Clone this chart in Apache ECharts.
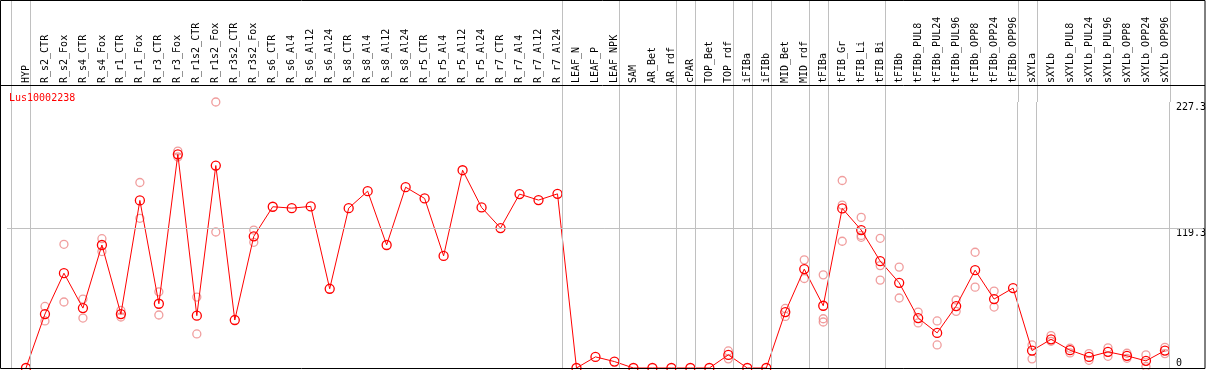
<!DOCTYPE html>
<html>
<head>
<meta charset="utf-8">
<script src="https://cdn.jsdelivr.net/npm/echarts@6/dist/echarts.min.js"></script>
<style>
  html, body { margin: 0; padding: 0; background: #fff; }
  #chart { width: 1209px; height: 370px; }
</style>
</head>
<body>
<div id="chart"></div>
<script>
var geneName = 'Lus10002238';

var categories = [
    'HYP',
    'R_s2_CTR', 'R_s2_Fox', 'R_s4_CTR', 'R_s4_Fox', 'R_r1_CTR', 'R_r1_Fox',
    'R_r3_CTR', 'R_r3_Fox', 'R_r1s2_CTR', 'R_r1s2_Fox', 'R_r3s2_CTR', 'R_r3s2_Fox',
    'R_s6_CTR', 'R_s6_Al4', 'R_s6_Al12', 'R_s6_Al24',
    'R_s8_CTR', 'R_s8_Al4', 'R_s8_Al12', 'R_s8_Al24',
    'R_r5_CTR', 'R_r5_Al4', 'R_r5_Al12', 'R_r5_Al24',
    'R_r7_CTR', 'R_r7_Al4', 'R_r7_Al12', 'R_r7_Al24',
    'LEAF_N', 'LEAF_P', 'LEAF_NPK',
    'SAM', 'AR_Bet', 'AR_rdf',
    'cPAR',
    'TOP_Bet', 'TOP_rdf',
    'iFIBa',
    'iFIBb',
    'MID_Bet', 'MID_rdf',
    'tFIBa',
    'tFIB_Gr', 'tFIB_Li', 'tFIB_Bi',
    'tFIBb', 'tFIBb_PUL8', 'tFIBb_PUL24', 'tFIBb_PUL96', 'tFIBb_OPP8', 'tFIBb_OPP24', 'tFIBb_OPP96',
    'sXYLa',
    'sXYLb', 'sXYLb_PUL8', 'sXYLb_PUL24', 'sXYLb_PUL96', 'sXYLb_OPP8', 'sXYLb_OPP24', 'sXYLb_OPP96'
];

// mean expression per sample
var means = [
    0,
    46.1, 81.0, 51.2, 105.1, 46.1, 143.2, 54.9, 182.6, 44.7, 173.0, 41.0, 112.5,
    137.8, 136.6, 138.1, 67.7,
    136.6, 151.1, 105.1, 154.5,
    144.9, 95.8, 169.0, 137.2,
    119.6, 148.6, 143.5, 148.8,
    0, 9.5, 5.5,
    0, 0, 0,
    0,
    0, 11.2,
    0,
    0,
    47.8, 84.5,
    53.2,
    136.4, 117.9, 91.3,
    72.8, 42.7, 30.0, 52.9, 83.6, 58.9, 68.3,
    14.9,
    24.5, 15.2, 9.5, 13.8, 10.4, 6.1, 14.9
];

// replicate values per sample
var replicates = [
    [],
    [52.6, 40.2], [105.7, 56.4], [58.9, 42.7], [110.5, 99.5], [49.2, 43.6], [158.5, 127.9],
    [65.1, 45.3], [185.4, 180.3], [60.6, 29.1], [227.3, 116.2], [], [117.9, 107.4],
    [], [], [], [],
    [], [], [], [],
    [], [], [], [],
    [], [], [], [],
    [], [], [],
    [], [], [],
    [],
    [], [14.6, 7.8],
    [],
    [],
    [50.9, 44.1], [92.4, 76.5],
    [79.6, 42.1, 39.3],
    [160.2, 139.2, 108.3], [128.7, 111.7, 113.3], [110.8, 87.5, 75.1],
    [86.2, 59.8], [47.8, 38.5], [40.2, 19.7], [58.1, 48.4], [98.9, 69.1], [65.7, 52.1], [],
    [19.7, 7.8],
    [27.7, 22.8], [16.9, 12.9], [12.3, 6.6], [17.2, 10.0], [12.6, 8.3], [11.2, 1.3], [17.7, 12.3]
];

// last sample index of each tissue group (separators drawn just after)
var groupEnds = [-1, 0, 28, 31, 34, 35, 37, 38, 39, 41, 42, 45, 52, 53, 60];

var yMax = 227.3;
var yMid = 119.3;

var meanData = means.map(function (v, i) { return [i, v]; });
var repData = [];
replicates.forEach(function (list, i) {
    list.forEach(function (v) { repData.push([i, v]); });
});
var sepLines = groupEnds.map(function (g) { return { xAxis: g + 0.24 }; });

var font = '"DejaVu Sans Mono", monospace';

var myChart = echarts.init(document.getElementById('chart'));
myChart.setOption({
    animation: false,
    title: {
        text: geneName,
        left: 4,
        top: 88,
        textStyle: { color: '#ff0000', fontSize: 10, fontWeight: 'normal', fontFamily: font }
    },
    grid: [
        { left: 7, right: 5, top: 102, bottom: 2 },
        { left: 7, right: 5, top: 0, height: 102 }
    ],
    xAxis: [{
        type: 'value',
        gridIndex: 0,
        position: 'top',
        offset: 17,
        min: -1,
        max: 62,
        interval: 1,
        axisLine: { show: false },
        axisTick: { show: false },
        splitLine: { show: false },
        axisLabel: {
            rotate: 90,
            margin: 2,
            fontSize: 10,
            fontFamily: font,
            color: '#000',
            showMinLabel: false,
            showMaxLabel: false,
            formatter: function (v) {
                var i = Math.round(v);
                return (Math.abs(v - i) < 1e-6 && categories[i]) ? categories[i] : '';
            }
        }
    }, {
        type: 'value',
        gridIndex: 1,
        min: -1,
        max: 62,
        show: false
    }],
    yAxis: [{
        type: 'value',
        gridIndex: 0,
        position: 'right',
        min: 0,
        max: yMax,
        interval: yMid,
        axisLine: { show: false },
        axisTick: { show: false },
        splitLine: { show: false },
        axisLabel: {
            inside: true,
            align: 'left',
            margin: 27,
            verticalAlign: 'top',
            verticalAlignMinLabel: 'bottom',
            fontSize: 10,
            fontFamily: font,
            color: '#000'
        }
    }, {
        type: 'value',
        gridIndex: 1,
        min: 0,
        max: 1,
        show: false
    }],
    graphic: [{
        type: 'rect',
        shape: { x: 0.5, y: 0.5, width: 1204.5, height: 368 },
        style: { fill: 'none', stroke: '#000', lineWidth: 1 },
        z: 10
    }, {
        type: 'line',
        shape: { x1: 0, y1: 85.5, x2: 1205, y2: 85.5 },
        style: { stroke: '#000', lineWidth: 1 },
        z: 10
    }],
    series: [{
        type: 'line',
        xAxisIndex: 1,
        yAxisIndex: 1,
        data: [],
        silent: true,
        markLine: {
            silent: true,
            symbol: 'none',
            label: { show: false },
            lineStyle: { color: '#c0c0c0', width: 1, type: 'solid' },
            data: sepLines
        }
    }, {
        name: 'replicates',
        type: 'scatter',
        data: repData,
        symbol: 'circle',
        symbolSize: 8,
        itemStyle: { color: 'rgba(0,0,0,0)', borderColor: '#ec8585', borderWidth: 1.3 },
        z: 2
    }, {
        name: geneName,
        type: 'line',
        data: meanData,
        symbol: 'circle',
        symbolSize: 9,
        lineStyle: { color: '#ff0000', width: 1 },
        itemStyle: { color: 'rgba(0,0,0,0)', borderColor: '#ff0000', borderWidth: 1.3 },
        z: 3,
        markLine: {
            silent: true,
            symbol: 'none',
            label: { show: false },
            lineStyle: { color: '#c0c0c0', width: 1, type: 'solid' },
            data: sepLines.concat([{ yAxis: yMid }])
        }
    }]
});
</script>
</body>
</html>
